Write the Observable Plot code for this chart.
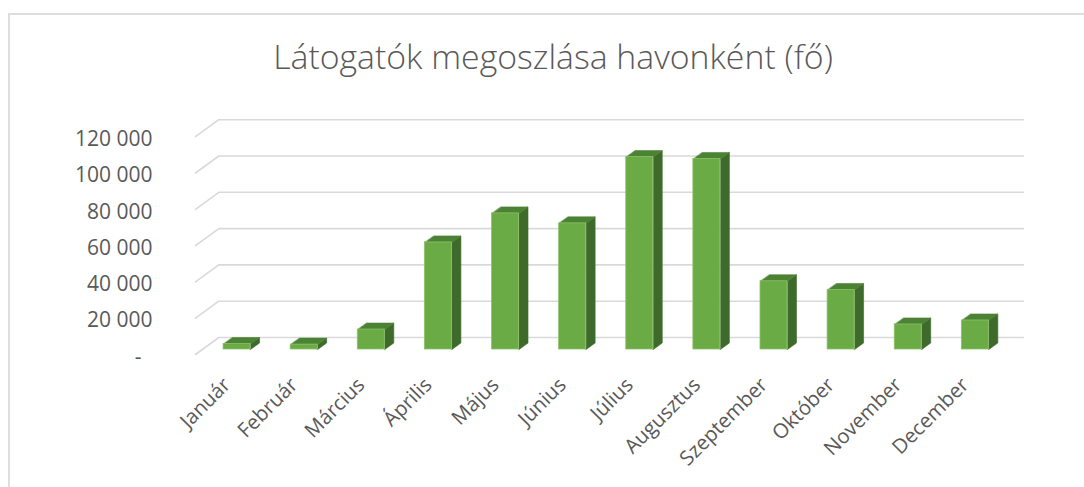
<!DOCTYPE html>
<html><head><meta charset="utf-8">
<script src="https://cdn.jsdelivr.net/npm/d3@7"></script>
<script src="https://cdn.jsdelivr.net/npm/@observablehq/plot@0.6"></script>
<style>
html,body{margin:0;padding:0;background:#fff;overflow:hidden;width:1084px;height:487px;}
#frame{position:absolute;left:8px;top:13px;width:1200px;height:600px;border-top:2px solid #dedede;border-left:2px solid #dedede;}
#title{position:absolute;left:0;top:36px;width:1106px;text-align:center;font-family:"Open Sans",sans-serif;font-weight:300;font-size:33.8px;line-height:40px;color:#595959;white-space:nowrap;}
#chart{position:absolute;left:0;top:100px;}
</style></head>
<body>
<div id="frame"></div>
<div id="title">Látogatók megoszlása havonként (fő)</div>
<div id="chart"></div>
<script>
// ---- data ----
const months = ["Január","Február","Március","Április","Május","Június","Július","Augusztus","Szeptember","Október","November","December"];
const visitors = [3000, 2700, 11000, 59000, 75000, 69500, 106000, 105000, 37600, 32800, 13800, 16000];
const yTicks = [0, 20000, 40000, 60000, 80000, 100000, 120000];

// ---- layout / projection parameters ----
const W = 1084, H = 387;
const mL = 203, mR = 75.6, mT = 31.2, mB = 138;
const xDom = [-0.5, months.length - 0.5];
const yDom = [0, 120000];
const kx = (W - mL - mR) / (xDom[1] - xDom[0]);   // px per category
const ky = (H - mT - mB) / (yDom[1] - yDom[0]);   // px per visitor
const px2x = p => p / kx, px2y = p => p / ky;

const halfW = px2x(13.5);                  // half front-face width
const depX = px2x(9), depY = px2y(6.5);    // bar depth projection
// gridline wall geometry (relative to bar base plane)
const gFrontX = xDom[0] - px2x(8), gBackX = xDom[0] + px2x(15.3), gRightX = xDom[0] + px2x(820);
const gFrontDY = -px2y(5), gBackDY = px2y(12);

const bars = months.map((m, i) => ({m, i, v: visitors[i]}));

const gridPts = yTicks.flatMap(t => [
  {t, x: gFrontX, y: t + gFrontDY},
  {t, x: gBackX, y: t + gBackDY},
  {t, x: gRightX, y: t + gBackDY}
]);

const sidePts = bars.flatMap(b => [
  {id: b.i, x: b.i + halfW, y: 0},
  {id: b.i, x: b.i + halfW + depX, y: depY},
  {id: b.i, x: b.i + halfW + depX, y: b.v + depY},
  {id: b.i, x: b.i + halfW, y: b.v}
]);
const topPts = bars.flatMap(b => [
  {id: b.i, x: b.i - halfW, y: b.v},
  {id: b.i, x: b.i + halfW, y: b.v},
  {id: b.i, x: b.i + halfW + depX, y: b.v + depY},
  {id: b.i, x: b.i - halfW + depX, y: b.v + depY}
]);

const fmt = d => d === 0 ? "-\u00a0\u00a0" : d3.format(",")(d).replace(/,/g, "\u00a0");

const chart = Plot.plot({
  width: W, height: H,
  marginLeft: mL, marginRight: mR, marginTop: mT, marginBottom: mB,
  style: {fontFamily: "'Open Sans', sans-serif", color: "#595959", background: "transparent", overflow: "visible"},
  x: {type: "linear", domain: xDom, axis: null},
  y: {type: "linear", domain: yDom, axis: null},
  marks: [
    Plot.line(gridPts, {x: "x", y: "y", z: "t", stroke: "#d9d9d9", strokeWidth: 1.6}),
    Plot.line(sidePts, {x: "x", y: "y", z: "id", curve: "linear-closed", fill: "#3e6b2b", stroke: "#3e6b2b", strokeWidth: 0.6}),
    Plot.line(topPts, {x: "x", y: "y", z: "id", curve: "linear-closed", fill: "#4b8233", stroke: "#4b8233", strokeWidth: 0.6}),
    Plot.rect(bars, {x1: d => d.i - halfW, x2: d => d.i + halfW, y1: 0, y2: "v", fill: "#6bab45", stroke: "#8cc26a", strokeWidth: 0.8}),
    Plot.text(yTicks, {x: xDom[0], y: d => d, text: fmt, textAnchor: "end", dx: -51, dy: 7.5, fontSize: 21, fill: "#595959"}),
    Plot.text(bars, {x: "i", y: 0, text: "m", rotate: -45, textAnchor: "end", lineAnchor: "middle", dx: -10, dy: 32, fontSize: 20.3, fill: "#595959"})
  ]
});
document.getElementById("chart").appendChild(chart);
</script>
</body></html>
